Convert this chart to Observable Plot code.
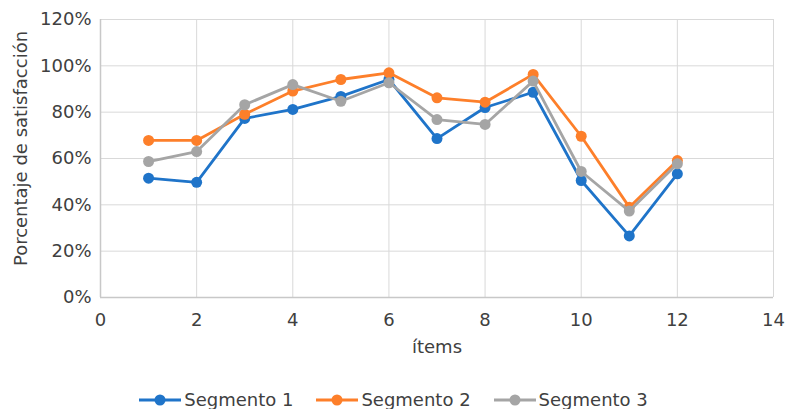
<!DOCTYPE html>
<html>
<head>
<meta charset="utf-8">
<script src="https://cdn.jsdelivr.net/npm/d3@7"></script>
<script src="https://cdn.jsdelivr.net/npm/@observablehq/plot@0.6"></script>
<style>
  html, body { margin: 0; padding: 0; background: #fff; }
  body { width: 787px; height: 409px; overflow: hidden; font-family: "DejaVu Sans", Verdana, sans-serif; }
  #legend { display: flex; justify-content: center; align-items: center; gap: 23px; font-size: 18px; line-height: 21px; color: #404040; margin-top: 29px; }
  #legend .item { display: flex; align-items: center; gap: 3px; }
  #legend svg { display: block; }
</style>
</head>
<body>
<div id="chart"></div>
<div id="legend"></div>
<script>
const items = [1, 2, 3, 4, 5, 6, 7, 8, 9, 10, 11, 12];
const seriesNames = ["Segmento 1", "Segmento 2", "Segmento 3"];
const seg1 = [0.515, 0.497, 0.773, 0.812, 0.868, 0.941, 0.686, 0.820, 0.886, 0.505, 0.266, 0.534];
const seg2 = [0.678, 0.678, 0.791, 0.891, 0.941, 0.970, 0.862, 0.843, 0.963, 0.696, 0.390, 0.591];
const seg3 = [0.587, 0.630, 0.832, 0.919, 0.847, 0.927, 0.768, 0.747, 0.934, 0.544, 0.373, 0.577];
const colors = ["#1f74c9", "#fd7f2a", "#a5a5a5"];
const xTicks = [0, 2, 4, 6, 8, 10, 12, 14];
const yTicks = [0, 0.2, 0.4, 0.6, 0.8, 1.0, 1.2];

const allSeries = [seg1, seg2, seg3];
const data = [];
allSeries.forEach((vals, si) => {
  vals.forEach((v, i) => data.push({ item: items[i], value: v, series: seriesNames[si] }));
});

const marks = [
  Plot.gridX(xTicks, { stroke: "#d9d9d9", strokeOpacity: 1, strokeWidth: 1 }),
  Plot.gridY(yTicks, { stroke: "#d9d9d9", strokeOpacity: 1, strokeWidth: 1 }),
  Plot.ruleX([0], { stroke: "#c8c8c8", strokeWidth: 1.5 }),
  Plot.ruleY([0], { stroke: "#c8c8c8", strokeWidth: 1.5 }),
  Plot.axisY(yTicks, { tickSize: 0, tickPadding: 9, tickFormat: d3.format(".0%"), fontSize: 18, label: null }),
  Plot.axisX(xTicks, { tickSize: 0, tickPadding: 16, fontSize: 18, label: null }),
  Plot.text(["Porcentaje de satisfacción"], { frameAnchor: "left", textAnchor: "middle", rotate: -90, dx: -79, dy: -10, fontSize: 18, fill: "#404040" }),
  Plot.text(["ítems"], { frameAnchor: "bottom", dy: 55, fontSize: 18, fill: "#404040" })
];
seriesNames.forEach((name, si) => {
  const sd = data.filter(d => d.series === name);
  marks.push(Plot.line(sd, { x: "item", y: "value", stroke: colors[si], strokeWidth: 2.8 }));
  marks.push(Plot.dot(sd, { x: "item", y: "value", fill: colors[si], r: 5.5 }));
});

const chart = Plot.plot({
  width: 787,
  height: 360,
  marginLeft: 100,
  marginRight: 14,
  marginTop: 19,
  marginBottom: 63,
  style: { fontFamily: "DejaVu Sans, Verdana, sans-serif", color: "#404040", background: "#fff", overflow: "visible" },
  x: { domain: [0, 14] },
  y: { domain: [0, 1.2] },
  marks
});
document.getElementById("chart").appendChild(chart);

const legend = document.getElementById("legend");
seriesNames.forEach((name, si) => {
  const item = document.createElement("div");
  item.className = "item";
  item.innerHTML = `<svg width="42" height="14"><line x1="0" x2="42" y1="7" y2="7" stroke="${colors[si]}" stroke-width="3"/><circle cx="21" cy="7" r="5.5" fill="${colors[si]}"/></svg><span>${name}</span>`;
  legend.appendChild(item);
});
</script>
</body>
</html>
